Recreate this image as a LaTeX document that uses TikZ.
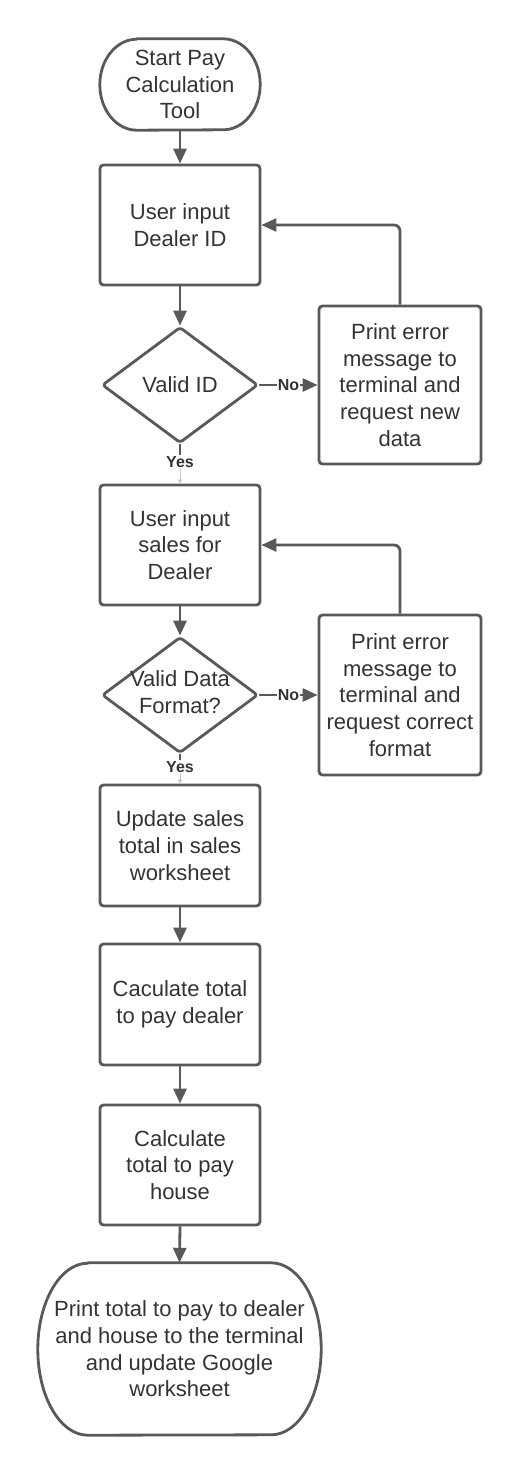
\documentclass[tikz,border=0pt]{standalone}
\usepackage{fontspec}
\setmainfont{Liberation Sans}
\usetikzlibrary{shapes.geometric,arrows.meta,calc}
\definecolor{strk}{RGB}{89,89,89}
\definecolor{txtc}{RGB}{51,51,51}
\begin{document}
\begin{tikzpicture}[x=1pt,y=1pt,
  shp/.style={draw=strk,line width=2.8pt,line join=round},
  procbox/.style={shp,rectangle,rounded corners=3.5pt,minimum width=160pt,minimum height=120pt,inner sep=0pt,align=center,text=txtc,font=\fontsize{22}{26.7}\selectfont},
  errbox/.style={procbox,minimum width=162pt,minimum height=158pt},
  ghost/.style={rectangle,inner sep=0pt,align=center,text=txtc,font=\fontsize{22}{26.7}\selectfont},
  decision/.style={shp,diamond,rounded corners=3pt,inner sep=0pt,minimum width=156pt,minimum height=116pt},
  conn/.style={draw=strk,line width=2.8pt,-{Triangle[width=13pt,length=15pt]}},
  plain/.style={draw=strk,line width=2.8pt},
  faint/.style={draw=strk!35,line width=0.6pt,-{Triangle[width=4pt,length=4pt]}},
  lbl/.style={fill=white,inner sep=1pt,text=txtc,font=\fontsize{16}{18}\selectfont\bfseries}
]
\useasboundingbox (0,0) rectangle (520,-1475);
\fill[white] (0,0) rectangle (520,-1475);

% start terminal
\node[ghost,minimum width=160pt,minimum height=91pt] (t1) at (180,-84.5) {Start Pay\\Calculation\\Tool};
\draw[shp] ($(t1.north west)+(37,0)$) -- ($(t1.north east)+(-37,0)$)
  arc[start angle=90,end angle=-90,x radius=37pt,y radius=45.5pt]
  -- ($(t1.south west)+(37,0)$)
  arc[start angle=270,end angle=90,x radius=37pt,y radius=45.5pt] -- cycle;

\node[procbox] (b1) at (180,-225) {User input\\Dealer ID};
\node[decision] (d1) at (180,-385) {};
\node[ghost] at (d1) {Valid ID};
\node[errbox] (e1) at (400,-385) {Print error\\message to\\terminal and\\request new\\data};

\node[procbox] (b2) at (180,-545) {User input\\sales for\\Dealer};
\node[decision] (d2) at (180,-695) {};
\node[ghost] at (180,-692) {Valid Data\\Format?};
\node[errbox,minimum height=160pt] (e2) at (400,-695) {Print error\\message to\\terminal and\\request correct\\format};

\node[procbox,minimum height=121pt] (b3) at (180,-845.5) {Update sales\\total in sales\\worksheet};
\node[procbox,minimum height=121pt] (b4) at (180,-1004.5) {Caculate total\\to pay dealer};
\node[procbox] (b5) at (180,-1165) {Calculate\\total to pay\\house};

% end terminal
\node[ghost,minimum width=283pt,minimum height=172pt] (t2) at (179.5,-1349) {Print total to pay to dealer\\and house to the terminal\\and update Google\\worksheet};
\draw[shp] ($(t2.north west)+(50,0)$) -- ($(t2.north east)+(-50,0)$)
  arc[start angle=90,end angle=-90,x radius=50pt,y radius=86pt]
  -- ($(t2.south west)+(50,0)$)
  arc[start angle=270,end angle=90,x radius=50pt,y radius=86pt] -- cycle;

% connectors
\draw[conn] (t1.south) -- (b1.north);
\draw[conn] (b1.south) -- (d1.north);
\draw[conn] (d1.east) -- (e1.west) node[lbl,midway] {No};
\draw[conn,rounded corners=6pt] (e1.north) |- (b1.east);
\node[lbl] (y1) at (180,-462) {Yes};
\draw[plain] (d1.south) -- (y1.north);
\draw[faint] (y1.south) -- (b2.north);

\draw[conn] (b2.south) -- (d2.north);
\draw[conn] (d2.east) -- (e2.west) node[lbl,midway] {No};
\draw[conn,rounded corners=6pt] (e2.north) |- (b2.east);
\node[lbl] (y2) at (180,-767) {Yes};
\draw[plain] (d2.south) -- (y2.north);
\draw[faint] (y2.south) -- (b3.north);

\draw[conn] (b3.south) -- (b4.north);
\draw[conn] (b4.south) -- (b5.north);
\draw[conn] (b5.south) -- (t2.north);
\end{tikzpicture}
\end{document}
